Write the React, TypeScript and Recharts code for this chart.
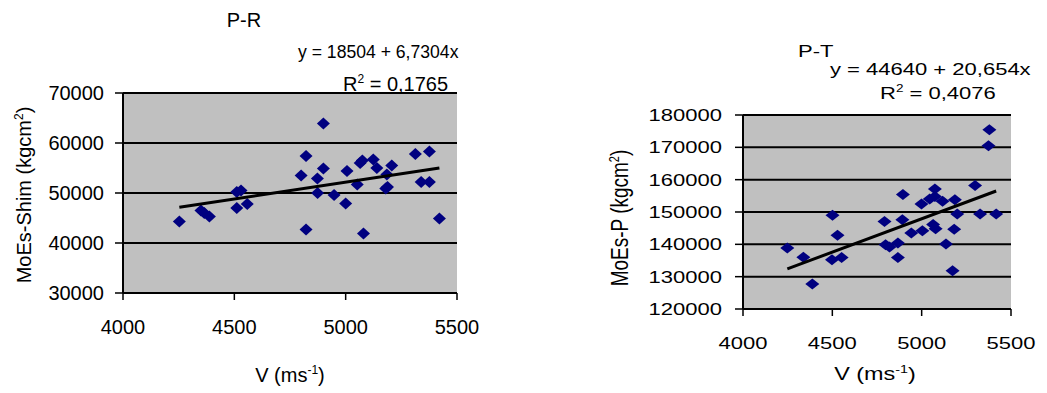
import React from 'react';
import { ScatterChart, Scatter, XAxis, YAxis, CartesianGrid } from 'recharts';

const FONT = '"Liberation Sans", Arial, sans-serif';

// shared x axis (velocity, m/s)
const velocityTicks = [4000, 4500, 5000, 5500];

// P-R panel
const prVelocity = [4253, 4350, 4365, 4388, 4511, 4530, 4511, 4558, 4822, 4800, 4822, 4873, 4874, 4900, 4900, 4948, 5000, 5006, 5052, 5065, 5075, 5080, 5124, 5140, 5185, 5207, 5180, 5188, 5313, 5376, 5339, 5376, 5421];
const prModulus = [44300, 46500, 46000, 45300, 50200, 50500, 47000, 47800, 57400, 53500, 42700, 52900, 50000, 54900, 63900, 49600, 47900, 54400, 51700, 56000, 56500, 41900, 56700, 55000, 53700, 55500, 50900, 51200, 57800, 58300, 52200, 52200, 44900];
const prTrendVelocity = [4253, 5421];
const prTrendModulus = [47130, 54990];
const prYTicks = [30000, 40000, 50000, 60000, 70000];

// P-T panel
const ptVelocity = [4248, 4338, 4388, 4501, 4529, 4498, 4552, 4792, 4798, 4820, 4867, 4867, 4895, 4892, 4942, 4999, 5004, 5045, 5074, 5074, 5064, 5078, 5117, 5136, 5186, 5199, 5182, 5173, 5299, 5327, 5374, 5379, 5417];
const ptModulus = [138900, 136000, 127700, 149000, 142800, 135200, 135900, 147100, 139900, 139200, 140400, 135900, 155400, 147600, 143500, 152500, 144200, 154000, 157100, 154800, 146100, 144800, 153300, 140100, 153800, 149400, 144700, 131800, 158200, 149400, 170500, 175400, 149400];
const ptTrendVelocity = [4248, 5417];
const ptTrendModulus = [132400, 156500];
const ptYTicks = [120000, 130000, 140000, 150000, 160000, 170000, 180000];

const toPoints = (xs: number[], ys: number[]) => xs.map((x, i) => ({ x, y: ys[i] }));

const diamond = (w: number, h: number) => (props: any) => {
    const { cx, cy } = props;
    if (cx == null || cy == null) return <g />;
    return (
        <polygon
            points={`${cx},${cy - h / 2} ${cx + w / 2},${cy} ${cx},${cy + h / 2} ${cx - w / 2},${cy}`}
            fill="#000080"
        />
    );
};

const tickText = (fontSize: number, stretch: number, anchor: string, dy: string) => (p: any) => (
    <text
        transform={`translate(${p.x},${p.y}) scale(${stretch},1)`}
        textAnchor={anchor}
        dy={dy}
        fontSize={fontSize}
        fontFamily={FONT}
        fill="#000"
    >
        {p.payload.value}
    </text>
);

interface PanelProps {
    points: { x: number; y: number }[];
    trend: { x: number; y: number }[];
    yTicks: number[];
    width: number;
    margin: { top: number; right: number; bottom: number; left: number };
    yAxisWidth: number;
    fontSize: number;
    stretch: number;
    yTickMargin: number;
    xTickMargin: number;
    markerW: number;
    markerH: number;
}

const Panel: React.FC<PanelProps> = ({ points, trend, yTicks, width, margin, yAxisWidth, fontSize, stretch, yTickMargin, xTickMargin, markerW, markerH }) => {
    const yDomain = [yTicks[0], yTicks[yTicks.length - 1]];
    return (
        <ScatterChart width={width} height={393} margin={margin}>
            <CartesianGrid vertical={false} stroke="#000" strokeWidth={2} fill="#C0C0C0" fillOpacity={1} />
            <XAxis
                type="number"
                dataKey="x"
                domain={[4000, 5500]}
                ticks={velocityTicks}
                interval={0}
                allowDataOverflow
                height={60}
                tickSize={7}
                tickMargin={xTickMargin}
                axisLine={{ stroke: '#000', strokeWidth: 2 }}
                tickLine={{ stroke: '#000', strokeWidth: 1.5 }}
                tick={tickText(fontSize, stretch, 'middle', '0.71em')}
            />
            <YAxis
                type="number"
                dataKey="y"
                domain={yDomain}
                ticks={yTicks}
                interval={0}
                allowDataOverflow
                width={yAxisWidth}
                tickSize={8}
                tickMargin={yTickMargin}
                axisLine={{ stroke: '#000', strokeWidth: 2 }}
                tickLine={{ stroke: '#000', strokeWidth: 1.5 }}
                tick={tickText(fontSize, stretch, 'end', '0.36em')}
            />
            <XAxis xAxisId="top" orientation="top" type="number" domain={[4000, 5500]} height={0} tick={false} tickLine={false} axisLine={{ stroke: '#808080', strokeWidth: 2 }} />
            <YAxis yAxisId="right" orientation="right" type="number" domain={yDomain} width={0} tick={false} tickLine={false} axisLine={{ stroke: '#808080', strokeWidth: 2 }} />
            <Scatter data={points} shape={diamond(markerW, markerH)} isAnimationActive={false} />
            <Scatter data={trend} line={{ stroke: '#000', strokeWidth: 3 }} shape={() => <g />} isAnimationActive={false} />
        </ScatterChart>
    );
};

const txt = { fontFamily: FONT, fill: '#000' };

export default function App() {
    const S = 1.35;
    return (
        <div style={{ position: 'absolute', left: 0, top: 0, width: 1047, height: 393, background: '#fff' }}>
            <div style={{ position: 'absolute', left: 0, top: 0 }}>
                <Panel
                    points={toPoints(prVelocity, prModulus)}
                    trend={toPoints(prTrendVelocity, prTrendModulus)}
                    yTicks={prYTicks}
                    width={480}
                    margin={{ top: 93, right: 23, bottom: 40, left: 0 }}
                    yAxisWidth={123}
                    fontSize={20}
                    stretch={1}
                    yTickMargin={11}
                    xTickMargin={20}
                    markerW={13}
                    markerH={12}
                />
            </div>
            <div style={{ position: 'absolute', left: 560, top: 0 }}>
                <Panel
                    points={toPoints(ptVelocity, ptModulus)}
                    trend={toPoints(ptTrendVelocity, ptTrendModulus)}
                    yTicks={ptYTicks}
                    width={487}
                    margin={{ top: 115, right: 36, bottom: 24, left: 0 }}
                    yAxisWidth={183}
                    fontSize={16.3}
                    stretch={S}
                    yTickMargin={13}
                    xTickMargin={21}
                    markerW={14}
                    markerH={11}
                />
            </div>
            <svg width={1047} height={393} style={{ position: 'absolute', left: 0, top: 0, pointerEvents: 'none' }}>
                {/* P-R texts */}
                <text x={244} y={27} textAnchor="middle" fontSize={20} {...txt}>P-R</text>
                <text x={298} y={57.5} fontSize={17.6} {...txt}>y = 18504 + 6,7304x</text>
                <text x={343} y={90.5} fontSize={20} {...txt}>
                    R<tspan dy={-8} fontSize={12}>2</tspan><tspan dy={8}> = 0,1765</tspan>
                </text>
                <text transform="translate(31,195) rotate(-90)" textAnchor="middle" fontSize={20} {...txt}>
                    MoEs-Shim (kgcm<tspan dy={-8} fontSize={12}>2</tspan><tspan dy={8}>)</tspan>
                </text>
                <text x={290} y={382} textAnchor="middle" fontSize={20} {...txt}>
                    V (ms<tspan dy={-8} fontSize={12}>-1</tspan><tspan dy={8}>)</tspan>
                </text>

                {/* P-T texts */}
                <text transform={`translate(798,57) scale(${S},1)`} fontSize={16.3} {...txt}>P-T</text>
                <text transform={`translate(830,75) scale(${S},1)`} fontSize={16.3} {...txt}>y = 44640 + 20,654x</text>
                <text transform={`translate(880,99) scale(${S},1)`} fontSize={16.3} {...txt}>
                    R<tspan dy={-7} fontSize={10}>2</tspan><tspan dy={7}> = 0,4076</tspan>
                </text>
                <text transform={`translate(628,218) scale(1.3,1) rotate(-90)`} textAnchor="middle" fontSize={19} {...txt}>
                    MoEs-P (kgcm<tspan dy={-7} fontSize={11}>2</tspan><tspan dy={7}>)</tspan>
                </text>
                <text transform={`translate(875,380) scale(1.3,1)`} textAnchor="middle" fontSize={18} {...txt}>
                    V (ms<tspan dy={-7} fontSize={11}>-1</tspan><tspan dy={7}>)</tspan>
                </text>
            </svg>
        </div>
    );
}
